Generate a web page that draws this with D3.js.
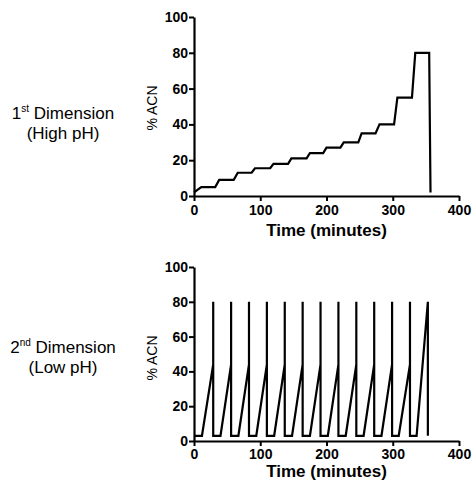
<!DOCTYPE html>
<html>
<head>
<meta charset="utf-8">
<script src="https://cdn.jsdelivr.net/npm/d3@7"></script>
<style>
  body { margin: 0; background: #fff; }
  text { font-family: "Liberation Sans", Arial, sans-serif; fill: #000; }
</style>
</head>
<body>
<div id="wrapper"></div>
<script>
// 1st dimension (high pH) step gradient
const highTime = [0, 11, 32, 38, 60, 66, 87, 92, 115, 120, 142, 147, 170, 175, 195, 200, 221, 226, 248, 253, 274, 280, 302, 307, 329, 334, 355, 357];
const highAcn = [2, 5, 5, 9, 9, 13, 13, 15.5, 15.5, 18, 18, 21, 21, 24, 24, 27, 27, 30, 30, 35, 35, 40, 40, 55, 55, 80, 80, 2];

// 2nd dimension (low pH) repeated gradients
const lowTime = [0, 12, 29, 29, 29, 40, 56, 56, 56, 67, 83, 83, 83, 94, 110, 110, 110, 121, 137, 137, 137, 148, 164, 164, 164, 175, 191, 191, 191, 202, 218, 218, 218, 229, 245, 245, 245, 256, 272, 272, 272, 283, 299, 299, 299, 309, 326, 326, 326, 336, 353, 353];
const lowAcn = [3, 3, 44, 80, 3, 3, 44, 80, 3, 3, 44, 80, 3, 3, 44, 80, 3, 3, 44, 80, 3, 3, 44, 80, 3, 3, 44, 80, 3, 3, 44, 80, 3, 3, 44, 80, 3, 3, 44, 80, 3, 3, 44, 80, 3, 3, 44, 80, 3, 3, 80, 3];

const xTicks = [0, 100, 200, 300, 400];
const yTicks = [0, 20, 40, 60, 80, 100];

const panels = [
  { time: highTime, acn: highAcn, top: 17, bottom: 196, label: ["1", "st", " Dimension", "(High pH)"], labelY: 119, yLabelY: 108, titleY: 236, pad: 4 },
  { time: lowTime, acn: lowAcn, top: 267, bottom: 441, label: ["2", "nd", " Dimension", "(Low pH)"], labelY: 353, yLabelY: 358, titleY: 477, pad: 3 },
];

const width = 473;
const height = 486;
const left = 194;
const right = 459;

const svg = d3
  .select("#wrapper")
  .append("svg")
  .attr("width", width)
  .attr("height", height);

svg.append("rect").attr("width", width).attr("height", height).attr("fill", "#fff");

panels.forEach((p) => {
  const data = p.time.map((t, i) => ({ t, v: p.acn[i] }));

  const xScale = d3.scaleLinear().domain([0, 400]).range([left, right]);
  const yScale = d3.scaleLinear().domain([0, 100]).range([p.bottom, p.top]);

  const lineGenerator = d3
    .line()
    .x((d) => xScale(d.t))
    .y((d) => yScale(d.v));

  svg
    .append("path")
    .attr("d", lineGenerator(data))
    .attr("fill", "none")
    .attr("stroke", "#000")
    .attr("stroke-width", 2.2)
    .attr("stroke-linejoin", "miter");

  const xAxis = svg
    .append("g")
    .attr("transform", `translate(0,${p.bottom})`)
    .call(d3.axisBottom(xScale).tickValues(xTicks).tickSize(5).tickSizeOuter(0).tickPadding(p.pad));

  const yAxis = svg
    .append("g")
    .attr("transform", `translate(${left},0)`)
    .call(d3.axisLeft(yScale).tickValues(yTicks).tickSize(5).tickSizeOuter(0).tickPadding(1));

  [xAxis, yAxis].forEach((a) => {
    a.select(".domain").attr("stroke", "#000").attr("stroke-width", 2.2);
    a.selectAll(".tick line").attr("stroke", "#000").attr("stroke-width", 2);
    a.selectAll(".tick text")
      .attr("fill", "#000")
      .style("font-family", '"Liberation Sans", Arial, sans-serif')
      .style("font-size", "14px")
      .style("font-weight", "bold");
  });

  svg
    .append("text")
    .attr("x", (left + right) / 2)
    .attr("y", p.titleY)
    .attr("text-anchor", "middle")
    .style("font-size", "17px")
    .style("font-weight", "bold")
    .text("Time (minutes)");

  svg
    .append("text")
    .attr("transform", `translate(157,${p.yLabelY}) rotate(-90)`)
    .attr("text-anchor", "middle")
    .style("font-size", "14px")
    .text("% ACN");

  const dim = svg
    .append("text")
    .attr("x", 63)
    .attr("y", p.labelY)
    .attr("text-anchor", "middle")
    .style("font-size", "17px");
  dim.append("tspan").text(p.label[0]);
  dim.append("tspan").attr("dy", -7).style("font-size", "10px").text(p.label[1]);
  dim.append("tspan").attr("dy", 7).text(p.label[2]);

  svg
    .append("text")
    .attr("x", 63)
    .attr("y", p.labelY + 20)
    .attr("text-anchor", "middle")
    .style("font-size", "17px")
    .text(p.label[3]);
});
</script>
</body>
</html>
